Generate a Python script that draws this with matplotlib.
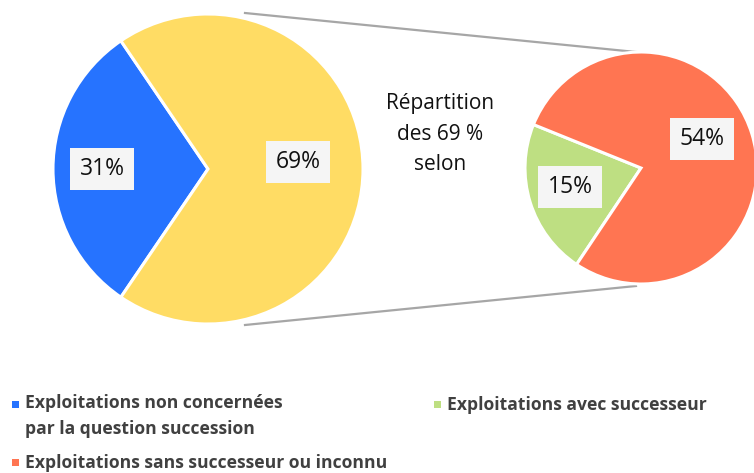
import matplotlib
matplotlib.use("Agg")
import matplotlib.pyplot as plt
from matplotlib.patches import Rectangle

# ---- data ----
main_labels = ["Exploitations non concernées\npar la question succession", "Répartition des 69 %"]
main_values = [31, 69]
main_colors = ["#2673FF", "#FFDC64"]
main_texts = ["31%", "69%"]

sub_labels = ["Exploitations avec successeur", "Exploitations sans successeur ou inconnu"]
sub_values = [15, 54]
sub_colors = ["#BEDF82", "#FF7552"]
sub_texts = ["15%", "54%"]

center_text = "Répartition\ndes 69 %\nselon"

W, H = 754, 473
fig = plt.figure(figsize=(W / 100, H / 100), dpi=100)
ax = fig.add_axes([0, 0, 1, 1])

def Y(y):
    return H - y

# left pie
lc, lr = (208, Y(169)), 155
half = main_values[0] / sum(main_values) * 360 / 2
ax.pie(main_values, colors=main_colors, startangle=180 - half, counterclock=True,
       center=lc, radius=lr, wedgeprops=dict(edgecolor="white", linewidth=2.2))

# right pie
rc, rr = (641, Y(168)), 116
ax.pie(sub_values, colors=sub_colors, startangle=158, counterclock=True,
       center=rc, radius=rr, wedgeprops=dict(edgecolor="white", linewidth=2.2))

# connector lines
ax.plot([245, 636], [Y(13), Y(52)], color="#A6A6A6", lw=1.6, zorder=0)
ax.plot([245, 636], [Y(325), Y(286)], color="#A6A6A6", lw=1.6, zorder=0)

font = "Open Sans"
box = dict(boxstyle="square,pad=0.4", facecolor="#F5F5F5", edgecolor="none")
label_pos = [(102, 169), (298, 162)]
for t, (x, y) in zip(main_texts, label_pos):
    ax.text(x, Y(y), t, ha="center", va="center", fontsize=16.5, family=font, color="#111111", bbox=box)
label_pos2 = [(570, 187), (702, 139)]
for t, (x, y) in zip(sub_texts, label_pos2):
    ax.text(x, Y(y), t, ha="center", va="center", fontsize=16.5, family=font, color="#111111", bbox=box)

ax.text(440, Y(134), center_text, ha="center", va="center", fontsize=15, family=font,
        linespacing=1.62, color="#111111")

# legend
leg = [(main_labels[0], main_colors[0], 15, 405),
       (sub_labels[0], sub_colors[0], 437, 405),
       (sub_labels[1], sub_colors[1], 15, 463)]
for lab, col, x, y in leg:
    ax.add_patch(Rectangle((x - 3.5, Y(y) - 3.5), 7, 7, facecolor=col, edgecolor="none"))
    if "\n" in lab:
        ax.text(x + 10, Y(y) + 11, lab, ha="left", va="top", fontsize=12.6, family=font,
                fontweight="bold", color="#404040", linespacing=1.55)
    else:
        ax.text(x + 10, Y(y), lab, ha="left", va="center", fontsize=12.6, family=font,
                fontweight="bold", color="#404040")

ax.set_xlim(0, W)
ax.set_ylim(0, H)
ax.set_aspect("equal")
ax.axis("off")
fig.savefig("out.png", dpi=100)
